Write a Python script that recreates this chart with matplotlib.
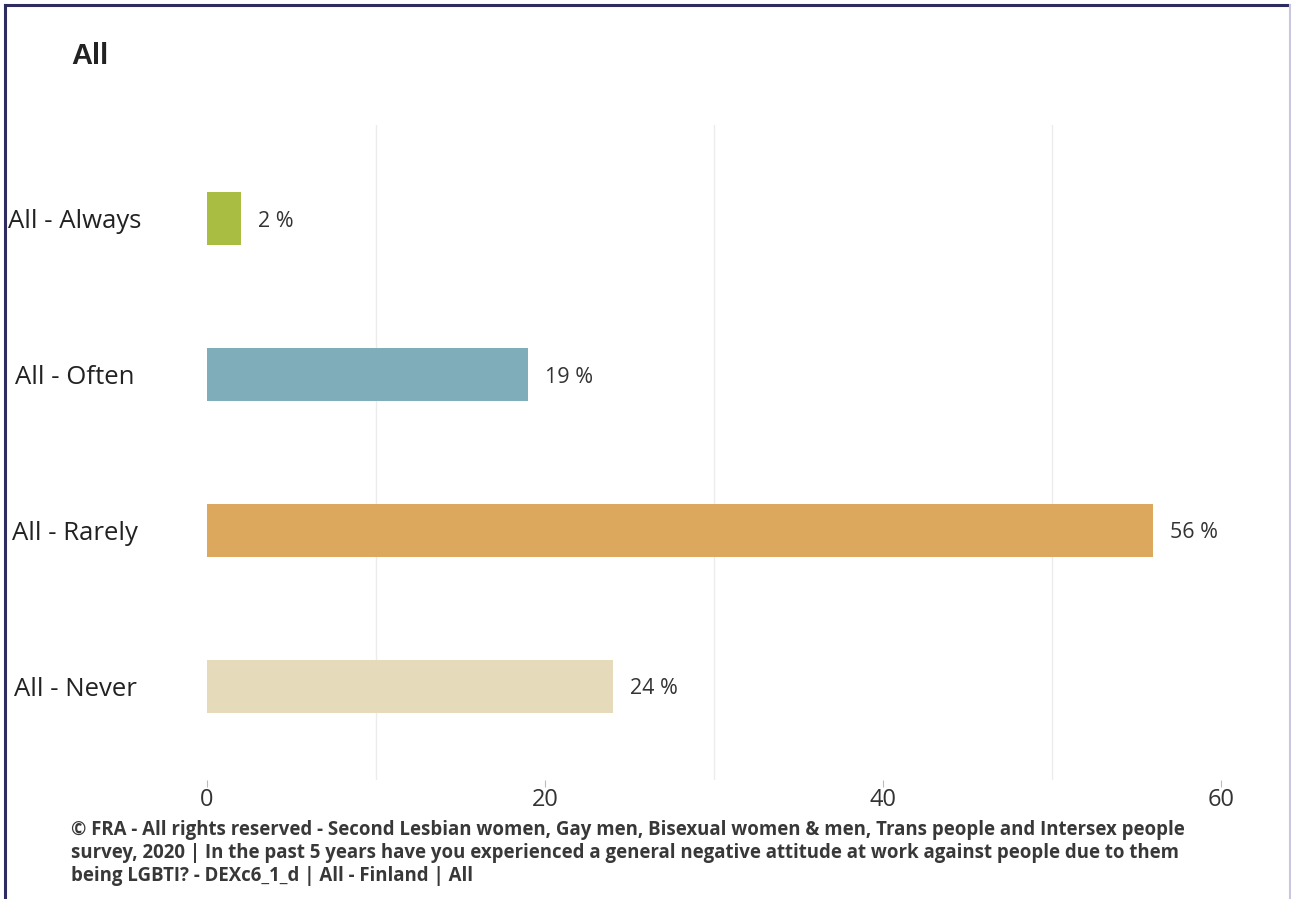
import matplotlib
matplotlib.use("Agg")
import matplotlib.pyplot as plt
from matplotlib.lines import Line2D

# Survey answers (share of respondents, %)
categories = ["All - Always", "All - Often", "All - Rarely", "All - Never"]
values = [2, 19, 56, 24]
colors = ["#A8BD41", "#7FADB9", "#DCA85E", "#E5DBBA"]

title = "All"
footer_lines = [
    "© FRA - All rights reserved - Second Lesbian women, Gay men, Bisexual women & men, Trans people and Intersex people",
    "survey, 2020 | In the past 5 years have you experienced a general negative attitude at work against people due to them",
    "being LGBTI? - DEXc6_1_d | All - Finland | All",
]
major_ticks = [0, 20, 40, 60]
grid_ticks = [10, 30, 50]

W, H = 1291, 899
fig = plt.figure(figsize=(W / 100, H / 100), dpi=100)
fig.patch.set_facecolor("white")

ax = fig.add_axes([207 / W, 1 - 780 / H, 1014 / W, 655 / H])
ypos = list(range(len(categories)))
ax.barh(ypos, values, height=0.34, color=colors, zorder=3)

for y, v in zip(ypos, values):
    ax.annotate(f"{v:.0f} %", xy=(v, y), xytext=(17, 0), textcoords="offset pixels",
                ha="left", va="center_baseline", fontsize=15.5, color="#333333",
                family="Open Sans", zorder=4)

ax.set_xlim(0, 60)
ax.set_ylim(3.6, -0.6)

ax.set_xticks(major_ticks)
ax.set_xticks(grid_ticks, minor=True)
ax.grid(False)
ax.xaxis.grid(True, which="minor", color="#ECECEC", linewidth=1.0, zorder=0)
ax.tick_params(axis="x", which="major", length=5, width=0.8, color="#BBBBBB",
               pad=1, labelsize=17, labelcolor="#333333")
ax.tick_params(axis="x", which="minor", length=0)
for lab in ax.get_xticklabels():
    lab.set_family("Open Sans")

ax.set_yticks(ypos, categories)
ax.tick_params(axis="y", length=0, pad=95, labelsize=18.5, labelcolor="#222222")
for lab in ax.get_yticklabels():
    lab.set_ha("center")
    lab.set_family("Open Sans")

for s in ax.spines.values():
    s.set_visible(False)

fig.text(71 / W, 1 - 56 / H, title, fontsize=21, fontweight="bold",
         family="Liberation Sans", color="#222222", ha="left", va="center")

for i, line in enumerate(footer_lines):
    fig.text(71 / W, 1 - (830 + 23 * i) / H, line, fontsize=13.4, fontweight="bold",
             family="Open Sans", color="#383838", ha="left", va="center")

# Frame around the panel
navy = "#2D2B62"
fig.add_artist(Line2D([4.5 / W, 1.0], [1 - 5 / H, 1 - 5 / H], color=navy, lw=2.2,
                      transform=fig.transFigure))
fig.add_artist(Line2D([4.5 / W, 4.5 / W], [0, 1 - 5 / H], color=navy, lw=2.2,
                      transform=fig.transFigure))
fig.add_artist(Line2D([1289.5 / W, 1289.5 / W], [0, 1 - 5 / H], color="#C9C6DF", lw=1.5,
                      transform=fig.transFigure))

fig.savefig("out.png", dpi=100, facecolor="white")
